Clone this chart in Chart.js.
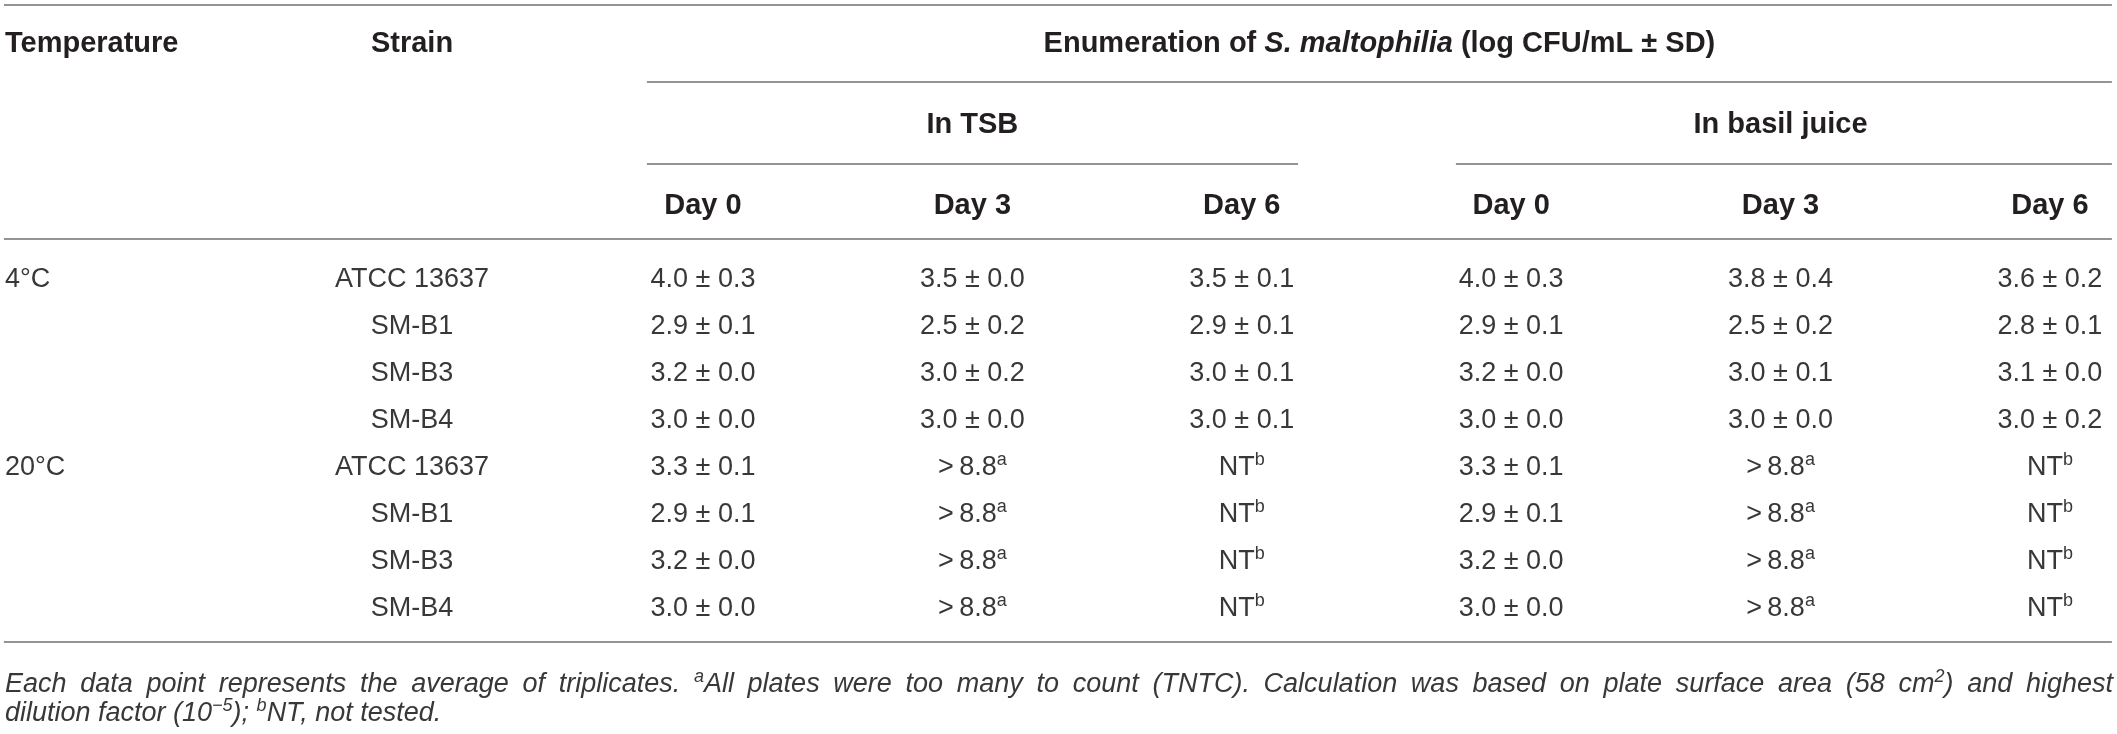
<!DOCTYPE html>
<html>
<head>
<meta charset="utf-8">
<script src="https://cdn.jsdelivr.net/npm/chart.js@4.4.1/dist/chart.umd.min.js"></script>
<style>
  html, body { margin: 0; padding: 0; background: #fff; }
  #wrap { width: 2117px; height: 734px; }
</style>
</head>
<body>
<div id="wrap"><canvas id="tableChart"></canvas></div>
<script>
// Table data. "^{..}" is a superscript, "_{..}" is italic.
const temperatures = ['4°C', '', '', '', '20°C', '', '', ''];
const strains = ['ATCC 13637', 'SM-B1', 'SM-B3', 'SM-B4', 'ATCC 13637', 'SM-B1', 'SM-B3', 'SM-B4'];
const mediaGroups = ['In TSB', 'In basil juice'];
const dayLabels = ['Day 0', 'Day 3', 'Day 6'];

// log CFU/mL ± SD
const tsbDay0 = ['4.0 ± 0.3', '2.9 ± 0.1', '3.2 ± 0.0', '3.0 ± 0.0', '3.3 ± 0.1', '2.9 ± 0.1', '3.2 ± 0.0', '3.0 ± 0.0'];
const tsbDay3 = ['3.5 ± 0.0', '2.5 ± 0.2', '3.0 ± 0.2', '3.0 ± 0.0', '>8.8^{a}', '>8.8^{a}', '>8.8^{a}', '>8.8^{a}'];
const tsbDay6 = ['3.5 ± 0.1', '2.9 ± 0.1', '3.0 ± 0.1', '3.0 ± 0.1', 'NT^{b}', 'NT^{b}', 'NT^{b}', 'NT^{b}'];
const basilDay0 = ['4.0 ± 0.3', '2.9 ± 0.1', '3.2 ± 0.0', '3.0 ± 0.0', '3.3 ± 0.1', '2.9 ± 0.1', '3.2 ± 0.0', '3.0 ± 0.0'];
const basilDay3 = ['3.8 ± 0.4', '2.5 ± 0.2', '3.0 ± 0.1', '3.0 ± 0.0', '>8.8^{a}', '>8.8^{a}', '>8.8^{a}', '>8.8^{a}'];
const basilDay6 = ['3.6 ± 0.2', '2.8 ± 0.1', '3.1 ± 0.0', '3.0 ± 0.2', 'NT^{b}', 'NT^{b}', 'NT^{b}', 'NT^{b}'];

const headerTitle = 'Enumeration of _{S. maltophilia} (log CFU/mL ± SD)';
const footnotes = [
    'Each data point represents the average of triplicates. ^{a}All plates were too many to count (TNTC). Calculation was based on plate surface area (58 cm^{2}) and highest',
    'dilution factor (10^{−5}); ^{b}NT, not tested.'
];

// Layout, in scale units: x = column index, y = body row index
const FAMILY = '"Liberation Sans", Arial, Helvetica, sans-serif';
const COL_LEFT = -0.591;      // Temperature column (left aligned)
const COL_STRAIN = 0.920;     // Strain column (centered)
const COL_DAYS = [2, 3, 4, 5, 6, 7];
const ROW_TITLE = -5.0, ROW_MEDIA = -3.277, ROW_DAY = -1.553;
const ROW_FOOT = [8.62, 9.24];
const RULE_TOP = -5.787, RULE_TITLE = -4.149, RULE_MEDIA = -2.404, RULE_HEAD = -0.809, RULE_BOTTOM = 7.766;
const X_START = -0.595, X_END = 7.23;
const TITLE_START = 1.792, TSB_END = 4.209, BASIL_START = 4.795;
const TITLE_CENTER = 4.511;

function parseRich(str) {
    return str.split(/(\^\{[^}]*\}|_\{[^}]*\})/).filter(s => s.length).map(p => {
        if (p.startsWith('^{')) return { text: p.slice(2, -1), sup: true };
        if (p.startsWith('_{')) return { text: p.slice(2, -1), italic: true };
        return { text: p };
    });
}

// draws text centred vertically on y, optionally justified to a width
function drawRich(ctx, str, x, y, opts) {
    const size = opts.size;
    const weight = opts.weight || 'normal';
    const align = opts.align || 'left';
    const fontFor = seg => {
        const it = (opts.italic || seg.italic) ? 'italic ' : '';
        const s = seg.sup ? Math.round(size * 0.66) : size;
        return it + weight + ' ' + s + 'px ' + FAMILY;
    };
    const tokens = [];
    parseRich(str.replace(/>/g, '>\u2009')).forEach(seg => {
        seg.text.split(/( )/).filter(t => t.length).forEach(t => {
            tokens.push({ text: t, sup: seg.sup, italic: seg.italic, space: t === ' ' });
        });
    });
    let natural = 0;
    tokens.forEach(t => {
        ctx.font = fontFor(t);
        t.w = ctx.measureText(t.text).width;
        natural += t.w;
    });
    const spaces = tokens.filter(t => t.space).length;
    const extra = opts.width && spaces ? (opts.width - natural) / spaces : 0;
    const total = natural + extra * spaces;
    let cx = align === 'center' ? x - total / 2 : align === 'right' ? x - total : x;
    const base = y + size * 0.36;
    ctx.fillStyle = opts.color || '#231f20';
    ctx.textBaseline = 'alphabetic';
    ctx.textAlign = 'left';
    tokens.forEach(t => {
        if (!t.space) {
            ctx.font = fontFor(t);
            ctx.fillText(t.text, cx, t.sup ? base - size * 0.36 : base);
        }
        cx += t.w + (t.space ? extra : 0);
    });
}

const tablePlugin = {
    id: 'tableText',
    afterDatasetsDraw(chart) {
        const ctx = chart.ctx;
        const xs = chart.scales.x, ys = chart.scales.y;
        const px = v => xs.getPixelForValue(v);
        const py = v => ys.getPixelForValue(v);
        ctx.save();

        // horizontal rules
        ctx.strokeStyle = '#949494';
        ctx.lineWidth = 2;
        const rule = (x0, x1, y) => {
            ctx.beginPath();
            ctx.moveTo(px(x0), py(y));
            ctx.lineTo(px(x1), py(y));
            ctx.stroke();
        };
        rule(X_START, X_END, RULE_TOP);
        rule(TITLE_START, X_END, RULE_TITLE);
        rule(TITLE_START, TSB_END, RULE_MEDIA);
        rule(BASIL_START, X_END, RULE_MEDIA);
        rule(X_START, X_END, RULE_HEAD);
        rule(X_START, X_END, RULE_BOTTOM);

        // header
        const head = { size: 29, weight: 'bold', color: '#231f20' };
        const centred = Object.assign({ align: 'center' }, head);
        drawRich(ctx, 'Temperature', px(COL_LEFT), py(ROW_TITLE), head);
        drawRich(ctx, 'Strain', px(COL_STRAIN), py(ROW_TITLE), centred);
        drawRich(ctx, headerTitle, px(TITLE_CENTER), py(ROW_TITLE), centred);
        mediaGroups.forEach((m, i) => {
            drawRich(ctx, m, px(COL_DAYS[i * 3 + 1]), py(ROW_MEDIA), centred);
        });
        COL_DAYS.forEach((c, i) => {
            drawRich(ctx, dayLabels[i % 3], px(c), py(ROW_DAY), centred);
        });

        // body cells, placed at the points of each dataset
        chart.data.datasets.forEach((ds, di) => {
            const meta = chart.getDatasetMeta(di);
            meta.data.forEach((pt, i) => {
                const text = ds.data[i].text;
                if (!text) return;
                drawRich(ctx, text, pt.x, pt.y, {
                    size: 27, color: '#383838', align: di === 0 ? 'left' : 'center'
                });
            });
        });

        // footnote, first line justified to the table width
        const fw = px(7.234) - px(COL_LEFT);
        footnotes.forEach((f, i) => {
            drawRich(ctx, f, px(COL_LEFT), py(ROW_FOOT[i]), {
                size: 27, italic: true, color: '#383838', width: i === 0 ? fw : 0
            });
        });
        ctx.restore();
    }
};

const columns = [temperatures, strains, tsbDay0, tsbDay3, tsbDay6, basilDay0, basilDay3, basilDay6];
const columnX = [COL_LEFT, COL_STRAIN].concat(COL_DAYS);

const tableChart = new Chart(document.getElementById('tableChart').getContext('2d'), {
    type: 'scatter',
    data: {
        datasets: columns.map((col, c) => ({
            label: 'column ' + c,
            data: col.map((text, r) => ({ x: columnX[c], y: r, text: text })),
            pointRadius: 0,
            pointHoverRadius: 0
        }))
    },
    options: {
        responsive: true,
        maintainAspectRatio: false,
        animation: false,
        events: [],
        layout: { padding: 0 },
        scales: {
            x: { type: 'linear', display: false, min: -0.6095, max: 7.249 },
            y: { type: 'linear', display: false, reverse: true, min: -5.894, max: 9.723 }
        },
        plugins: {
            legend: { display: false },
            tooltip: { enabled: false }
        }
    },
    plugins: [tablePlugin]
});
</script>
</body>
</html>
